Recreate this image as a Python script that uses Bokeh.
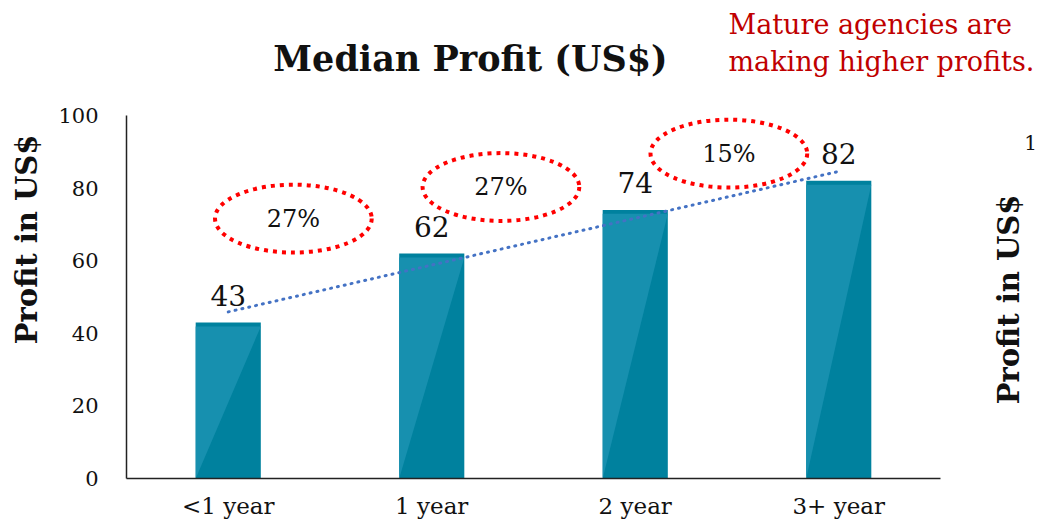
import numpy as np
from bokeh.plotting import figure
from bokeh.models import Range1d, FixedTicker, Label
from bokeh.core.properties import value
from bokeh.embed import file_html
from bokeh.resources import INLINE

# ---- data ----
categories = ["<1 year", "1 year", "2 year", "3+ year"]
profits = [43, 62, 74, 82]
growth_labels = ["27%", "27%", "15%"]
title_text = "Median Profit (US$)"
note_lines = ["Mature agencies are", "making higher profits."]
y_ticks = [0, 20, 40, 60, 80, 100]

# annotation positions (layout, data units)
ell_x = [0.82, 1.84, 2.96]
ell_y = [71.6, 80.3, 89.5]

FONT = "DejaVu Serif"
BAR = "#00819E"
BAR_LIGHT = "#1790AF"
TXT = "#111111"

xc = [i + 0.5 for i in range(len(categories))]
bw = 0.32

W, H = 1036, 522
LEFT, BOTTOM = 126, 44
PX_X = 203.5          # pixels per category
PX_Y = 3.63           # pixels per unit
x_end = (W - LEFT) / PX_X
y_end = (H - BOTTOM) / PX_Y

p = figure(width=W, height=H, x_range=Range1d(0, x_end), y_range=Range1d(0, y_end),
           output_backend="svg", toolbar_location=None,
           min_border_left=LEFT, min_border_right=0, min_border_top=0, min_border_bottom=BOTTOM)
p.outline_line_color = None
p.xgrid.grid_line_color = None
p.ygrid.grid_line_color = None
p.background_fill_color = "white"

# bars
p.vbar(x=xc, top=profits, width=bw, fill_color=BAR, line_color=None)
band = 1.1
xs = [[x - bw / 2, x + bw / 2, x - bw / 2] for x in xc]
ys = [[v - band, v - band, 0] for v in profits]
p.patches(xs, ys, fill_color=BAR_LIGHT, line_color=None)

# value labels
lab_gap = 27 / PX_Y
p.text(x=xc, y=[v + lab_gap for v in profits], text=[str(v) for v in profits],
       text_align="center", text_baseline="middle", text_font=value(FONT),
       text_font_size="28px", text_color=TXT)

# trend line
coef = np.polyfit(np.arange(len(profits)), profits, 1)
tx = np.array([xc[0], xc[-1]])
ty = np.polyval(coef, np.array([0, len(profits) - 1]))
p.line(tx, ty, line_color="#4472C4", line_width=3, line_dash="1 6", line_cap="round")

# ellipses + growth labels
p.ellipse(x=ell_x, y=ell_y, width=0.77, height=18.7, fill_color=None,
          line_color="#FF0000", line_width=4, line_dash="4 5")
p.text(x=ell_x, y=ell_y, text=growth_labels, text_align="center", text_baseline="middle",
       text_font=value(FONT), text_font_size="24px", text_color=TXT)

# axes
yax = p.yaxis[0]
yax.ticker = FixedTicker(ticks=y_ticks)
yax.bounds = (0, 100)
yax.axis_label = "Profit in US$"
yax.axis_label_text_font = FONT
yax.axis_label_text_font_style = "bold"
yax.axis_label_text_font_size = "29px"
yax.axis_label_text_color = TXT
yax.axis_label_standoff = 11
yax.major_label_text_font = FONT
yax.major_label_text_font_size = "21px"
yax.major_label_text_color = TXT
yax.major_tick_line_color = None
yax.minor_tick_line_color = None
yax.major_tick_out = 0
yax.major_label_standoff = 28
yax.axis_line_color = "#222222"
yax.axis_line_width = 1.5

xax = p.xaxis[0]
xax.ticker = FixedTicker(ticks=xc)
xax.bounds = (0, len(categories))
xax.major_label_overrides = {x: c for x, c in zip(xc, categories)}
xax.major_label_text_font = FONT
xax.major_label_text_font_size = "23px"
xax.major_label_text_color = TXT
xax.major_tick_line_color = None
xax.minor_tick_line_color = None
xax.major_tick_out = 0
xax.major_label_standoff = 14
xax.axis_line_color = "#222222"
xax.axis_line_width = 1.5

# title and note (inside the extended frame)
def X(px):  # picture x -> data
    return (px - LEFT) / PX_X

def Y(py):  # picture y -> data
    return (H - BOTTOM - py) / PX_Y

p.add_layout(Label(x=X(470), y=Y(58), text=title_text, text_align="center", text_baseline="middle",
                   text_font=FONT, text_font_style="bold", text_font_size="35px", text_color=TXT))
p.add_layout(Label(x=X(728), y=Y(24), text=note_lines[0], text_align="left", text_baseline="middle",
                   text_font=FONT, text_font_size="27px", text_color="#C00000"))
p.add_layout(Label(x=X(728), y=Y(61), text=note_lines[1], text_align="left", text_baseline="middle",
                   text_font=FONT, text_font_size="27px", text_color="#C00000"))

# right-side secondary label
p.add_layout(Label(x=X(1008), y=Y(299), text="Profit in US$", angle=np.pi / 2, text_align="center",
                   text_baseline="middle", text_font=FONT, text_font_style="bold",
                   text_font_size="29px", text_color=TXT))
p.add_layout(Label(x=X(1030), y=Y(142), text="1", text_align="center", text_baseline="middle",
                   text_font=FONT, text_font_size="20px", text_color=TXT))

open("out.html", "w").write(file_html(p, INLINE))
